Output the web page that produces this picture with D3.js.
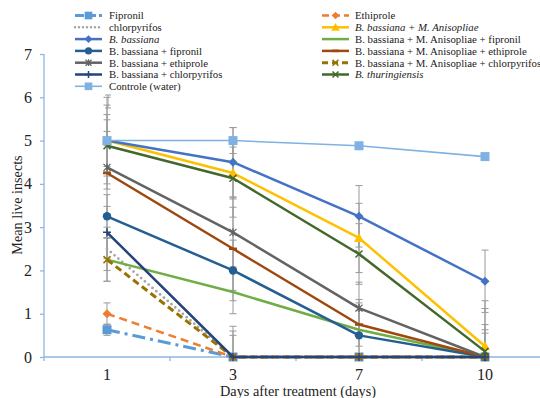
<!DOCTYPE html>
<html><head><meta charset="utf-8">
<script src="https://cdn.jsdelivr.net/npm/d3@7"></script>
<style>body{margin:0;background:#fff}svg{display:block}svg text{font-family:'Liberation Serif','DejaVu Serif',serif !important}</style>
</head><body><svg id="c" width="540" height="398"></svg>
<script>
const days = ["1","3","7","10"];
const yTicks = [0,1,2,3,4,5,6,7];
const seriesNames = ["Fipronil","Ethiprole","chlorpyrifos","B. bassiana + M. Anisopliae","B. bassiana","B. bassiana + M. Anisopliae + fipronil","B. bassiana + fipronil","B. bassiana + M. Anisopliae + ethiprole","B. bassiana + ethiprole","B. bassiana + M. Anisopliae + chlorpyrifos","B. bassiana + chlorpyrifos","B. thuringiensis","Controle (water)"];
const italicNames = ["B. bassiana","B. bassiana + M. Anisopliae","B. thuringiensis"];
const fipronil = [0.63,0,0,0];
const ethiprole = [1.0,0,0,0];
const chlorpyrifos = [2.5,0,0,0];
const bbMA = [5.0,4.25,2.75,0.25];
const bb = [5.0,4.5,3.25,1.75];
const bbMAfip = [2.25,1.5,0.63,0];
const bbFip = [3.25,2.0,0.5,0];
const bbMAeth = [4.25,2.5,0.75,0];
const bbEth = [4.38,2.88,1.13,0];
const bbMAchl = [2.25,0,0,0];
const bbChl = [2.88,0,0,0];
const bt = [4.88,4.13,2.38,0.13];
const control = [5.0,5.0,4.88,4.63];
const errFipronil = [0.13,0,0,0];
const errEthiprole = [0.25,0,0,0];
const errChlorpyrifos = [0.5,0.71,0,0];
const errBbMA = [0.6,0.6,0.8,0.5];
const errBb = [0.82,0.8,0.71,0.72];
const errBbMAfip = [0.5,0.5,0.7,0];
const errBbFip = [0.5,0.7,0.58,0.55];
const errBbMAeth = [0.96,0.96,0.5,1.12];
const errBbEth = [0.5,0.8,0.6,1.3];
const errBbMAchl = [0.5,0.5,0,0];
const errBbChl = [0.6,0.6,0,0];
const errBt = [0.6,0.9,0.7,0.5];
const errControl = [1.0,0.3,0,0];

const values = [fipronil,ethiprole,chlorpyrifos,bbMA,bb,bbMAfip,bbFip,bbMAeth,bbEth,bbMAchl,bbChl,bt,control];
const errs = [errFipronil,errEthiprole,errChlorpyrifos,errBbMA,errBb,errBbMAfip,errBbFip,errBbMAeth,errBbEth,errBbMAchl,errBbChl,errBt,errControl];
const colors = ["#5B9BD5","#ED7D31","#A5A5A5","#FFC000","#4472C4","#70AD47","#255E91","#9E480E","#636363","#997300","#264478","#43682B","#7FB2E3"];
const dashes = ["13,5,3,5","8,5",null,null,null,null,null,null,null,"7,4",null,null,null];
const widths = [3,2.5,2.5,2.5,2.5,2.5,2.5,2.5,2.5,3,2.5,2.5,1.6];
const markers = ["square","diamond","none","triangle","diamond","none","circle","dash","star","x","plus","x","square"];
const FONT = "'Liberation Serif','DejaVu Serif',serif";

const svg = d3.select("#c");
const x = d3.scaleBand().domain(days).range([44,548]);
const y = d3.scaleLinear().domain([0,7]).range([357,54]);
const cx = d => x(d)+x.bandwidth()/2;

svg.append("defs").append("clipPath").attr("id","clip").append("rect").attr("x",44).attr("y",0).attr("width",500).attr("height",357);

// y axis
const ya = svg.append("g").attr("transform","translate(44,0)").call(d3.axisLeft(y).tickValues(yTicks).tickSize(4).tickPadding(8).tickFormat(d3.format("d")));
ya.attr("font-family",FONT);
ya.selectAll("path,line").attr("stroke","#8DB6E2").attr("stroke-width",1.3);
ya.select("path").attr("d","M0,"+y(7)+"V"+y(0));
ya.selectAll("text").attr("font-size",16).attr("fill","#222").attr("font-family",FONT);

// x axis
const xa = svg.append("g").attr("transform","translate(0,"+y(0)+")").call(d3.axisBottom(x).tickSize(0).tickPadding(12));
xa.attr("font-family",FONT);
xa.select("path").attr("stroke","#8DB6E2").attr("stroke-width",1.3).attr("d","M44,0H548");
xa.selectAll("text").attr("font-size",16).attr("fill","#222").attr("font-family",FONT);
xa.selectAll(".edge").data(days).enter().append("line")
  .attr("x1",d=>x(d)).attr("x2",d=>x(d)).attr("y1",0).attr("y2",4).attr("stroke","#8DB6E2").attr("stroke-width",1.3);

svg.append("text").attr("x",298).attr("y",396).attr("text-anchor","middle").attr("font-size",14.3).attr("font-family",FONT).attr("fill","#222").text("Days after treatment (days)");
svg.append("text").attr("transform","translate(22,205) rotate(-90)").attr("text-anchor","middle").attr("font-size",14.2).attr("font-family",FONT).attr("fill","#222").text("Mean live insects");

const plot = svg.append("g").attr("clip-path","url(#clip)");
// error bars
values.forEach((vals,i)=>{
  vals.forEach((v,j)=>{
    const e = errs[i][j]; if(!e) return;
    const px = cx(days[j]);
    const g = plot.append("g").attr("stroke","#9A9A9A").attr("stroke-width",1);
    g.append("line").attr("x1",px).attr("x2",px).attr("y1",y(v-e)).attr("y2",y(v+e));
    g.append("line").attr("x1",px-3.5).attr("x2",px+3.5).attr("y1",y(v+e)).attr("y2",y(v+e));
    g.append("line").attr("x1",px-3.5).attr("x2",px+3.5).attr("y1",y(v-e)).attr("y2",y(v-e));
  });
});

function drawMarker(g,type,px,py,col,s){
  s = s||1;
  if(type==="square") g.append("rect").attr("x",px-4.5*s).attr("y",py-4.5*s).attr("width",9*s).attr("height",9*s).attr("fill",col);
  else if(type==="diamond") g.append("path").attr("d",`M${px},${py-4.5*s}L${px+4.5*s},${py}L${px},${py+4.5*s}L${px-4.5*s},${py}Z`).attr("fill",col);
  else if(type==="triangle") g.append("path").attr("d",`M${px},${py-5*s}L${px+5*s},${py+4*s}L${px-5*s},${py+4*s}Z`).attr("fill",col);
  else if(type==="circle") g.append("circle").attr("cx",px).attr("cy",py).attr("r",4.2*s).attr("fill",col);
  else if(type==="dash") g.append("line").attr("x1",px-4*s).attr("x2",px+4*s).attr("y1",py).attr("y2",py).attr("stroke",col).attr("stroke-width",2.5);
  else if(type==="x") g.append("path").attr("d",`M${px-3.5*s},${py-3.5*s}L${px+3.5*s},${py+3.5*s}M${px-3.5*s},${py+3.5*s}L${px+3.5*s},${py-3.5*s}`).attr("stroke",col).attr("stroke-width",1.5);
  else if(type==="plus") g.append("path").attr("d",`M${px-4*s},${py}H${px+4*s}M${px},${py-4*s}V${py+4*s}`).attr("stroke",col).attr("stroke-width",1.5);
  else if(type==="star") g.append("path").attr("d",`M${px-3.5*s},${py-3.5*s}L${px+3.5*s},${py+3.5*s}M${px-3.5*s},${py+3.5*s}L${px+3.5*s},${py-3.5*s}M${px},${py-4*s}V${py+4*s}`).attr("stroke",col).attr("stroke-width",1.3);
}

const line = d3.line().x((d,j)=>cx(days[j])).y(d=>y(d));
const lg = svg.append("g");
values.forEach((vals,i)=>{
  const p = lg.append("path").datum(vals).attr("d",line).attr("fill","none").attr("stroke",colors[i]).attr("stroke-width",widths[i]).attr("stroke-linejoin","round");
  if(dashes[i]) p.attr("stroke-dasharray",dashes[i]);
  if(i===2) p.attr("stroke-dasharray","0,5").attr("stroke-linecap","round").attr("stroke-width",2.8);
  vals.forEach((v,j)=>drawMarker(lg,markers[i],cx(days[j]),y(v),colors[i]));
});

// legend
const rowH = 11.8;
const legendCol = [
  {names:[0,2,4,6,8,10,12], sx:75, tx:109},
  {names:[1,3,5,7,9,11], sx:322, tx:355}
];
const leg = svg.append("g");
legendCol.forEach(c=>{
  c.names.forEach((si,r)=>{
    const yy = 15.5 + r*rowH;
    const l = leg.append("line").attr("x1",c.sx).attr("x2",c.sx+27).attr("y1",yy).attr("y2",yy).attr("stroke",colors[si]).attr("stroke-width",widths[si]);
    if(dashes[si]) l.attr("stroke-dasharray",dashes[si]==="13,5,3,5"?"9,3":dashes[si]==="8,5"?"7,4":"6,4");
    if(si===2) l.attr("stroke-dasharray","0,4").attr("stroke-linecap","round");
    drawMarker(leg,markers[si],c.sx+13.5,yy,colors[si],0.85);
    leg.append("text").attr("x",c.tx).attr("y",yy+3.8).attr("font-size",10.8).attr("font-family",FONT).attr("fill","#222")
      .attr("font-style",italicNames.includes(seriesNames[si])?"italic":"normal").text(seriesNames[si]);
  });
});
// error bar legend symbol
const eg = leg.append("g").attr("stroke","#9A9A9A").attr("stroke-width",1);
eg.append("line").attr("x1",108).attr("x2",108).attr("y1",95).attr("y2",108);
eg.append("line").attr("x1",105).attr("x2",111).attr("y1",95).attr("y2",95);
eg.append("line").attr("x1",105).attr("x2",111).attr("y1",108).attr("y2",108);
</script></body></html>
